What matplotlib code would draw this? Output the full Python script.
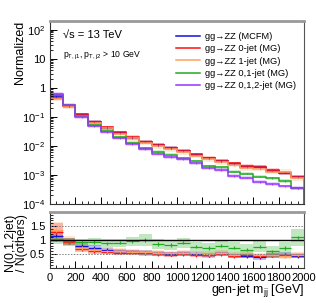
import numpy as np
import matplotlib
matplotlib.use("Agg")
import matplotlib.pyplot as plt
from matplotlib.ticker import MultipleLocator, LogLocator, FixedLocator, NullFormatter

plt.rcParams['font.family'] = ['Liberation Sans', 'DejaVu Sans']
plt.rcParams['mathtext.fontset'] = 'custom'
plt.rcParams['mathtext.rm'] = 'Liberation Sans'
plt.rcParams['mathtext.it'] = 'Liberation Sans:italic'

# bin edges in GeV
edges = np.arange(0, 2001, 100)

labels = ["gg→ZZ (MCFM)", "gg→ZZ 0-jet (MG)", "gg→ZZ 1-jet (MG)",
          "gg→ZZ 0,1-jet (MG)", "gg→ZZ 0,1,2-jet (MG)"]
colors = ["#1010e0", "#ff1010", "#ffa060", "#22aa22", "#9933ff"]

# normalized distributions
mcfm = [0.52, 0.24, 0.115, 0.066, 0.042, 0.028, 0.019, 0.014, 0.0105, 0.0083,
        0.0066, 0.0050, 0.0037, 0.0030, 0.0024, 0.0019, 0.0019, 0.0014, 0.0012, 0.00085]
jet0 = [0.46, 0.24, 0.12, 0.067, 0.043, 0.029, 0.020, 0.014, 0.0108, 0.0086,
        0.0068, 0.0051, 0.0038, 0.0030, 0.0025, 0.0020, 0.0019, 0.0015, 0.0012, 0.00087]
jet1 = [0.42, 0.23, 0.11, 0.062, 0.040, 0.026, 0.018, 0.013, 0.0096, 0.0076,
        0.0061, 0.0046, 0.0034, 0.0027, 0.0022, 0.0017, 0.0016, 0.0013, 0.0013, 0.00077]
jet01 = [0.58, 0.25, 0.11, 0.052, 0.033, 0.020, 0.0128, 0.0083, 0.0062, 0.0049,
         0.0038, 0.0029, 0.0020, 0.0018, 0.0013, 0.0011, 0.00087, 0.00077, 0.00062, 0.00034]
jet012 = [0.62, 0.25, 0.10, 0.049, 0.029, 0.018, 0.0117, 0.0079, 0.0054, 0.0042,
          0.0034, 0.0025, 0.0017, 0.0015, 0.00090, 0.00080, 0.00058, 0.00048, 0.00040, 0.00035]
# relative uncertainty of the bands in the top panel
rel_err = [0.15, 0.15, 0.18, 0.12, 0.15]

# ratio N(0,1,2jet) / N(others)
ratio_mcfm = [1.15, 0.95, 0.80, 0.72, 0.65, 0.60, 0.58, 0.55, 0.52, 0.50,
              0.52, 0.50, 0.47, 0.52, 0.45, 0.42, 0.38, 0.45, 0.48, 0.42]
ratio_jet0 = [1.27, 0.92, 0.68, 0.60, 0.57, 0.55, 0.55, 0.52, 0.50, 0.48,
              0.50, 0.47, 0.45, 0.50, 0.42, 0.45, 0.43, 0.45, 0.45, 0.45]
ratio_jet1 = [1.35, 0.98, 0.72, 0.65, 0.60, 0.60, 0.58, 0.56, 0.55, 0.52,
              0.55, 0.52, 0.50, 0.55, 0.48, 0.52, 0.45, 0.48, 0.42, 0.48]
ratio_jet01 = [1.02, 0.95, 0.92, 0.93, 0.88, 0.90, 0.95, 1.00, 0.86, 0.82,
               0.90, 0.76, 0.72, 0.80, 0.73, 0.66, 0.76, 0.60, 0.72, 1.09]
ratio_err = [
    [0.20, 0.12, 0.10, 0.10, 0.08, 0.08, 0.08, 0.08, 0.08, 0.08, 0.08, 0.08, 0.08, 0.08, 0.08, 0.08, 0.08, 0.08, 0.08, 0.08],
    [0.35, 0.15, 0.12, 0.10, 0.08, 0.08, 0.08, 0.08, 0.08, 0.08, 0.08, 0.08, 0.08, 0.08, 0.08, 0.08, 0.08, 0.08, 0.08, 0.08],
    [0.30, 0.15, 0.12, 0.10, 0.10, 0.10, 0.10, 0.10, 0.10, 0.10, 0.10, 0.10, 0.10, 0.10, 0.10, 0.10, 0.10, 0.10, 0.10, 0.10],
    [0.15, 0.12, 0.12, 0.15, 0.15, 0.15, 0.17, 0.20, 0.18, 0.18, 0.18, 0.18, 0.18, 0.18, 0.18, 0.18, 0.20, 0.20, 0.20, 0.30],
]

series = [mcfm, jet0, jet1, jet01, jet012]
ratios = [ratio_mcfm, ratio_jet0, ratio_jet1, ratio_jet01]

fig = plt.figure(figsize=(3.16, 3.03), dpi=100)
ax = fig.add_axes([0.158, 0.327, 0.804, 0.604])
rax = fig.add_axes([0.158, 0.1155, 0.804, 0.185])

centers = 0.5 * (edges[:-1] + edges[1:])

# top panel
for vals, col, lab, re in zip(series, colors, labels, rel_err):
    v = np.array(vals)
    ax.stairs(v * (1 + re), edges, baseline=v * (1 - re), fill=True,
              color=col, alpha=0.22, lw=0)
for vals, col, lab in zip(series, colors, labels):
    v = np.array(vals)
    ax.stairs(v, edges, color=col, lw=1.1, label=lab)
    ax.errorbar(centers, v, yerr=0.06 * v, fmt='none', ecolor=col, elinewidth=0.6)

ax.set_yscale('log')
ax.set_xlim(0, 2000)
ax.set_ylim(1e-4, 2e2)
ax.set_ylabel("Normalized", fontsize=9, loc='top')
ax.yaxis.set_label_coords(-0.095, 1.0)
ax.xaxis.set_major_locator(MultipleLocator(200))
ax.xaxis.set_minor_locator(MultipleLocator(50))
ax.xaxis.set_major_formatter(NullFormatter())
ax.yaxis.set_major_locator(FixedLocator([1e-4, 1e-3, 1e-2, 1e-1, 1, 10, 100]))
ax.yaxis.set_minor_locator(LogLocator(base=10, subs=np.arange(2, 10), numticks=20))
ax.yaxis.set_minor_formatter(NullFormatter())
ax.set_yticklabels([r"$10^{-4}$", r"$10^{-3}$", r"$10^{-2}$", r"$10^{-1}$", "1", "10", r"$10^{2}$"])

ax.text(0.05, 0.905, "√s = 13 TeV", transform=ax.transAxes, fontsize=8)
ax.text(0.05, 0.80, r"p$_{\rm T,j1}$, p$_{\rm T,j2}$ > 10 GeV", transform=ax.transAxes, fontsize=6.2)

leg = ax.legend(loc='upper right', bbox_to_anchor=(1.0, 0.985), frameon=False,
                fontsize=6.7, handlelength=2.6, handletextpad=0.5,
                labelspacing=0.35)

# ratio panel
for r, col, er in zip(ratios, colors, ratio_err):
    r = np.array(r)
    er = np.array(er)
    rax.stairs(r + er, edges, baseline=r - er, fill=True, color=col, alpha=0.28, lw=0)
for r, col in zip(ratios, colors):
    r = np.array(r)
    rax.errorbar(centers, r, xerr=50, yerr=0.06, fmt='none', ecolor=col, elinewidth=0.9)
rax.axhline(1.0, color='black', lw=1)
rax.axhline(1.5, color='gray', lw=0.7, ls=(0, (1.5, 1.5)))
rax.axhline(0.5, color='gray', lw=0.7, ls=(0, (1.5, 1.5)))

rax.set_xlim(0, 2000)
rax.set_ylim(0, 2)
rax.xaxis.set_major_locator(MultipleLocator(200))
rax.xaxis.set_minor_locator(MultipleLocator(50))
rax.yaxis.set_major_locator(FixedLocator([0.5, 1.0, 1.5]))
rax.yaxis.set_minor_locator(MultipleLocator(0.1))
rax.set_yticklabels(["0.5", "1", "1.5"])
rax.set_xlabel(r"gen-jet m$_{\rm jj}$ [GeV]", fontsize=9, loc='right')
rax.xaxis.set_label_coords(1.0, -0.25)
rax.set_ylabel("N(0,1,2jet)\n/ N(others)", fontsize=8.8, linespacing=1.0)
rax.yaxis.set_label_coords(-0.088, 0.45)

for a in (ax, rax):
    a.tick_params(which='both', direction='in', labelsize=8, top=False, right=False)
    a.tick_params(which='major', length=5, width=0.7)
    a.tick_params(which='minor', length=2.5, width=0.6)
    for s in a.spines.values():
        s.set_linewidth(0.8)
        s.set_color('#333333')
    a.spines['top'].set_color('#999999')
    a.spines['top'].set_linewidth(2)
    a.spines['right'].set_color('#555555')

fig.savefig("out.png", dpi=100)
